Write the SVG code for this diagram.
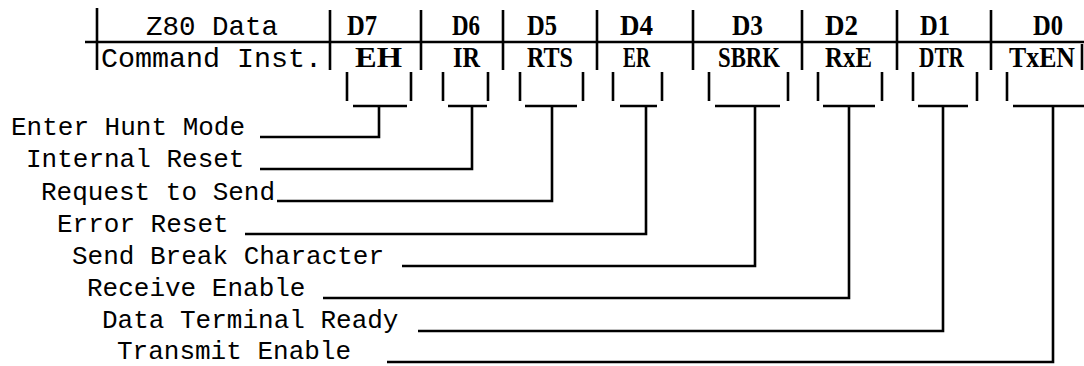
<svg xmlns="http://www.w3.org/2000/svg" width="1084" height="366" viewBox="0 0 1084 366">
<style>
.ln{stroke:#000;stroke-width:2.6;fill:none;stroke-linecap:butt}
.mono{font-family:"Liberation Mono","DejaVu Sans Mono",monospace;fill:#000}
.hd{font-size:28px}
.lb{font-size:26px}
.bit{font-family:"Liberation Serif","DejaVu Serif",serif;font-size:30px;font-weight:bold;fill:#000}
</style>
<rect width="1084" height="366" fill="#fff"/>
<g id="register-table">
  <path class="ln" d="M85 42H1084M97 8V70M330 10V70M421 10V70M503 10V70M597 10V70M693 10V70M802 10V70M897 10V70M991 10V70M1082 44V70"/>
  <text class="mono hd" x="146" y="35" textLength="132" lengthAdjust="spacingAndGlyphs">Z80 Data</text>
  <text class="mono hd" x="101" y="67" textLength="221" lengthAdjust="spacingAndGlyphs">Command Inst.</text>
</g>
<g id="bit-d7">
  <text class="bit" x="347" y="35" textLength="30" lengthAdjust="spacingAndGlyphs">D7</text>
  <text class="bit" x="355" y="67" textLength="47" lengthAdjust="spacingAndGlyphs">EH</text>
  <path class="ln" d="M347 72V101M411 72V101M353 106H407"/>
</g>
<g id="bit-d6">
  <text class="bit" x="452" y="35" textLength="28" lengthAdjust="spacingAndGlyphs">D6</text>
  <text class="bit" x="453" y="67" textLength="27" lengthAdjust="spacingAndGlyphs">IR</text>
  <path class="ln" d="M443 72V101M488 72V101M448 106H487"/>
</g>
<g id="bit-d5">
  <text class="bit" x="527" y="35" textLength="30" lengthAdjust="spacingAndGlyphs">D5</text>
  <text class="bit" x="527" y="67" textLength="46" lengthAdjust="spacingAndGlyphs">RTS</text>
  <path class="ln" d="M520 72V101M583 72V101M525 106H577"/>
</g>
<g id="bit-d4">
  <text class="bit" x="620" y="35" textLength="33" lengthAdjust="spacingAndGlyphs">D4</text>
  <text class="bit" x="623" y="67" textLength="27" lengthAdjust="spacingAndGlyphs">ER</text>
  <path class="ln" d="M613 72V101M662 72V101M620 106H657"/>
</g>
<g id="bit-d3">
  <text class="bit" x="732" y="35" textLength="31" lengthAdjust="spacingAndGlyphs">D3</text>
  <text class="bit" x="718" y="67" textLength="62" lengthAdjust="spacingAndGlyphs">SBRK</text>
  <path class="ln" d="M709 72V101M788 72V101M715 106H780"/>
</g>
<g id="bit-d2">
  <text class="bit" x="825" y="35" textLength="33" lengthAdjust="spacingAndGlyphs">D2</text>
  <text class="bit" x="825" y="67" textLength="47" lengthAdjust="spacingAndGlyphs">RxE</text>
  <path class="ln" d="M818 72V101M882 72V101M823 106H875"/>
</g>
<g id="bit-d1">
  <text class="bit" x="920" y="35" textLength="30" lengthAdjust="spacingAndGlyphs">D1</text>
  <text class="bit" x="919" y="67" textLength="45" lengthAdjust="spacingAndGlyphs">DTR</text>
  <path class="ln" d="M913 72V101M977 72V101M918 106H968"/>
</g>
<g id="bit-d0">
  <text class="bit" x="1033" y="35" textLength="30" lengthAdjust="spacingAndGlyphs">D0</text>
  <text class="bit" x="1009" y="67" textLength="66" lengthAdjust="spacingAndGlyphs">TxEN</text>
  <path class="ln" d="M1007 72V101M1013 106H1084"/>
</g>
<g id="label-eh"><text class="mono lb" x="11" y="135">Enter Hunt Mode</text></g>
<g id="label-ir"><text class="mono lb" x="26" y="167">Internal Reset</text></g>
<g id="label-rts"><text class="mono lb" x="41" y="200">Request to Send</text></g>
<g id="label-er"><text class="mono lb" x="57" y="232">Error Reset</text></g>
<g id="label-sbrk"><text class="mono lb" x="72" y="264">Send Break Character</text></g>
<g id="label-rxe"><text class="mono lb" x="87" y="296">Receive Enable</text></g>
<g id="label-dtr"><text class="mono lb" x="102" y="328">Data Terminal Ready</text></g>
<g id="label-txen"><text class="mono lb" x="117" y="359">Transmit Enable</text></g>
<g id="connectors">
  <path class="ln" d="M379 106V137H260"/>
  <path class="ln" d="M472 106V169H260"/>
  <path class="ln" d="M552 106V201H277"/>
  <path class="ln" d="M646 106V234H245"/>
  <path class="ln" d="M755 106V266H402"/>
  <path class="ln" d="M849 106V298H323"/>
  <path class="ln" d="M943 106V331H418"/>
  <path class="ln" d="M1053 106V362H387"/>
</g>
</svg>
